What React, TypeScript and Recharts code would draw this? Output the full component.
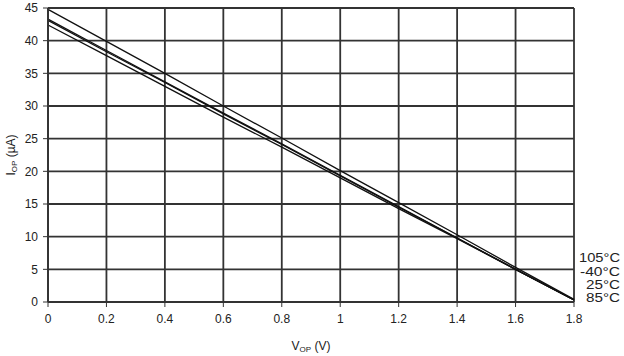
import React from "react";
import {
  LineChart,
  Line,
  XAxis,
  YAxis,
  CartesianGrid,
} from "recharts";

const voltage = [0, 0.2, 0.4, 0.6, 0.8, 1, 1.2, 1.4, 1.6, 1.8];
const i105 = [44.8, 39.9, 35.0, 30.0, 25.1, 20.1, 15.2, 10.3, 5.3, 0.4];
const iMinus40 = [43.3, 38.5, 33.7, 28.9, 24.2, 19.4, 14.6, 9.8, 5.0, 0.3];
const i25 = [43.1, 38.3, 33.6, 28.8, 24.1, 19.3, 14.5, 9.8, 5.0, 0.3];
const i85 = [42.4, 37.7, 33.0, 28.3, 23.7, 19.0, 14.3, 9.7, 5.0, 0.3];

const seriesNames = ["105°C", "-40°C", "25°C", "85°C"];
const xTicks = [0, 0.2, 0.4, 0.6, 0.8, 1, 1.2, 1.4, 1.6, 1.8];
const yTicks = [0, 5, 10, 15, 20, 25, 30, 35, 40, 45];

const data = voltage.map((v, i) => ({
  v,
  t105: i105[i],
  tm40: iMinus40[i],
  t25: i25[i],
  t85: i85[i],
}));

const FONT = "'Liberation Sans', Arial, Helvetica, sans-serif";
const TEXT = "#222";

// names of the temperatures stacked at the right end of the lines,
// squeezed a bit vertically like in the original figure
const endLabel = (name: string, dy: number, len: number) => (props: any) => {
  const { x, y, index } = props;
  if (index !== voltage.length - 1) return null;
  return (
    <text
      x={x + 46 - len}
      y={y + dy}
      dominantBaseline="central"
      fontSize={12}
      fontFamily={FONT}
      fill={TEXT}
      textLength={len}
      lengthAdjust="spacingAndGlyphs"
    >
      {name}
    </text>
  );
};

const YTitle = (props: any) => {
  const { viewBox } = props;
  const cx = viewBox.x + 3;
  const cy = viewBox.y + viewBox.height / 2;
  return (
    <text
      x={cx}
      y={cy}
      transform={`rotate(-90 ${cx} ${cy})`}
      textAnchor="middle"
      dominantBaseline="central"
      fontSize={12}
      fontFamily={FONT}
      fill={TEXT}
    >
      I
      <tspan fontSize={8} dy={3}>OP</tspan>
      <tspan dy={-3}> (µA)</tspan>
    </text>
  );
};

const XTitle = (props: any) => {
  const { viewBox } = props;
  const cx = viewBox.x + viewBox.width / 2;
  return (
    <text
      x={cx}
      y={346}
      textAnchor="middle"
      dominantBaseline="central"
      fontSize={12}
      fontFamily={FONT}
      fill={TEXT}
    >
      V
      <tspan fontSize={8} dy={3}>OP</tspan>
      <tspan dy={-3}> (V)</tspan>
    </text>
  );
};

const tickStyle = { fontSize: 12, fontFamily: FONT, fill: TEXT };

export default function App() {
  return (
    <div style={{ position: "absolute", left: 0, top: 0, background: "#fff" }}>
      <LineChart
        width={624}
        height={356}
        data={data}
        margin={{ top: 8, right: 50, bottom: 24, left: 8 }}
      >
        <CartesianGrid stroke="#333" strokeWidth={1.8} />
        <XAxis
          dataKey="v"
          type="number"
          domain={[0, 1.8]}
          ticks={xTicks}
          height={30}
          tick={tickStyle}
          tickSize={5}
          tickMargin={7}
          stroke="#333"
          axisLine={{ stroke: "#333", strokeWidth: 1.8 }}
          label={<XTitle />}
        />
        <YAxis
          type="number"
          domain={[0, 45]}
          ticks={yTicks}
          width={40}
          tick={tickStyle}
          tickSize={5}
          tickMargin={5}
          stroke="#333"
          axisLine={{ stroke: "#333", strokeWidth: 1.8 }}
          label={<YTitle />}
        />
        <Line
          dataKey="t105"
          name={seriesNames[0]}
          stroke="#111"
          strokeWidth={1.3}
          dot={false}
          isAnimationActive={false}
          label={endLabel(seriesNames[0], -41, 41)}
        />
        <Line
          dataKey="tm40"
          name={seriesNames[1]}
          stroke="#111"
          strokeWidth={1.3}
          dot={false}
          isAnimationActive={false}
          label={endLabel(seriesNames[1], -28, 40)}
        />
        <Line
          dataKey="t25"
          name={seriesNames[2]}
          stroke="#111"
          strokeWidth={1.3}
          dot={false}
          isAnimationActive={false}
          label={endLabel(seriesNames[2], -15, 34)}
        />
        <Line
          dataKey="t85"
          name={seriesNames[3]}
          stroke="#111"
          strokeWidth={1.3}
          dot={false}
          isAnimationActive={false}
          label={endLabel(seriesNames[3], -2, 34)}
        />
      </LineChart>
    </div>
  );
}
